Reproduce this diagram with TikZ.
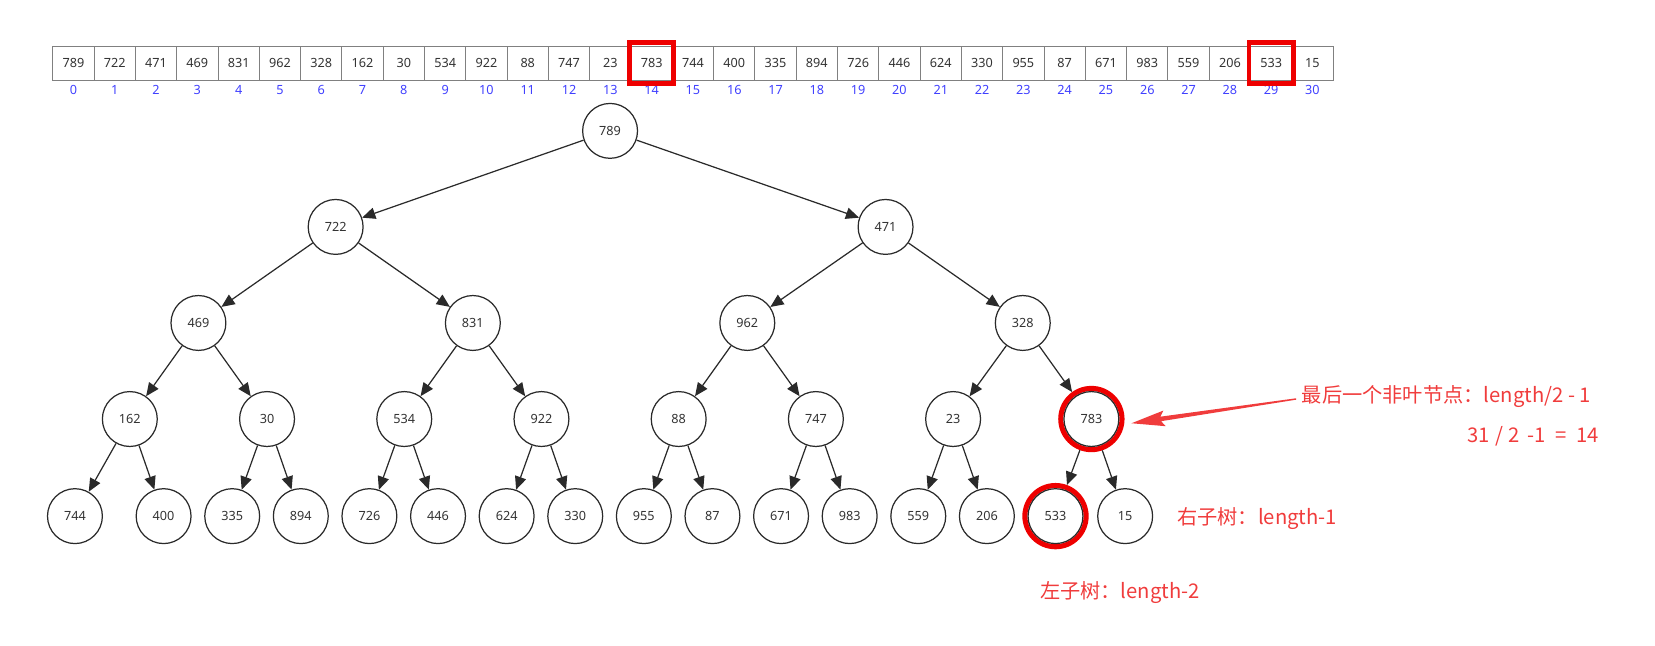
\documentclass[tikz,border=0pt]{standalone}
\usepackage{fontspec}
\setmainfont{Noto Sans}
\newfontfamily\cjk{Noto Sans CJK SC}
\usetikzlibrary{arrows.meta,calc}
\definecolor{edgegray}{HTML}{2A2A2A}
\definecolor{txtgray}{HTML}{333333}
\definecolor{cellgray}{HTML}{808080}
\definecolor{idxblue}{HTML}{4040FF}
\definecolor{hotred}{HTML}{EE0000}
\definecolor{annot}{HTML}{F03C3C}
\begin{document}
\begin{tikzpicture}[x=0.6pt,y=-0.6pt,
  treenode/.style={circle,draw=edgegray,line width=0.7pt,minimum size=31.2pt,inner sep=0pt,
    font=\fontsize{7.2}{8}\selectfont,text=txtgray},
  hotnode/.style={circle,draw=hotred,line width=2.9pt,minimum size=34.8pt,inner sep=0pt,
    font=\fontsize{7.2}{8}\selectfont,text=txtgray},
  edge/.style={draw=edgegray,line width=0.7pt,-{Triangle[length=7.5pt,width=6.5pt]}},
  cell/.style={rectangle,draw=cellgray,line width=0.5pt,minimum width=23.48pt,minimum height=19.2pt,
    inner sep=0pt,font=\fontsize{7.2}{8}\selectfont,text=txtgray},
  idx/.style={inner sep=0pt,font=\fontsize{7.2}{8}\selectfont,text=idxblue},
  hotbox/.style={draw=hotred,line width=2.7pt},
  note/.style={inner sep=0pt,anchor=west,text=annot,font=\cjk\fontsize{11.5}{13}\selectfont}]
\useasboundingbox (0,0) rectangle (1568,612);

% array with indices
\foreach \v [count=\k from 0] in {789,722,471,469,831,962,328,162,30,534,922,88,747,23,783,744,400,335,894,726,446,624,330,955,87,671,983,559,206,533,15} {
  \node[cell] (c\k) at ({50+39.13*(\k+0.5)},60) {\v};
  \node[idx] (ix\k) at ({50+39.13*(\k+0.5)},85) {\k};
}
\draw[hotbox] ($(c14.north west)+(-1,-3)$) rectangle ($(c14.south east)+(1,3)$);
\draw[hotbox] ($(c29.north west)+(-1,-3)$) rectangle ($(c29.south east)+(1,3)$);

% heap tree
\foreach \k/\x/\y/\v in {0/578/124/789,
  1/318/215/722, 2/839/215/471,
  3/188/306/469, 4/448/306/831, 5/708/306/962, 6/969/306/328,
  7/123/397/162, 8/253/397/30, 9/383/397/534, 10/513/397/922,
  11/643/397/88, 12/773/397/747, 13/903/397/23,
  15/71/489/744, 16/155/489/400, 17/220/489/335, 18/285/489/894,
  19/350/489/726, 20/415/489/446, 21/480/489/624, 22/545/489/330,
  23/610/489/955, 24/675/489/87, 25/740/489/671, 26/805/489/983,
  27/870/489/559, 28/935/489/206, 30/1066/489/15} {
  \node[treenode] (n\k) at (\x,\y) {\v};
}
\node[hotnode] (n14) at (1034,397) {783};
\node[hotnode] (n29) at (1000,489) {533};
\draw[edgegray,line width=0.7pt] (n14.center) circle[radius=15.6pt];
\draw[edgegray,line width=0.7pt] (n29.center) circle[radius=15.6pt];

\foreach \p in {0,...,14} {
  \pgfmathtruncatemacro\lc{2*\p+1}
  \pgfmathtruncatemacro\rc{2*\p+2}
  \draw[edge] (n\p) -- (n\lc);
  \draw[edge] (n\p) -- (n\rc);
}

% annotations
\node[note] (t1) at (1233,376) {最后一个非叶节点：length/2 - 1};
\node[note] (t2) at (1390,413) {31\hspace{3pt}/\hspace{3pt}2\hspace{4.6pt}-1\hspace{5.5pt}=\hspace{5.5pt}14};
\node[note] (t3) at (1115,491) {右子树：length-1};
\node[note] (t4) at (985,561) {左子树：length-2};

% tapered pointer to the last non-leaf node
\coordinate (arrtail) at (1228,378);
\coordinate (arrtip) at (1072,401);
\coordinate (hb) at ($(arrtip)!16.8pt!(arrtail)$);
\coordinate (hbb) at ($(arrtip)!19pt!(arrtail)$);
\fill[annot] ($(arrtail)!0.4pt!90:(arrtip)$) -- ($(hb)!1.3pt!90:(arrtip)$)
  -- ($(hbb)!4.5pt!90:(arrtip)$) -- (arrtip) -- ($(hbb)!4.5pt!-90:(arrtip)$)
  -- ($(hb)!1.3pt!-90:(arrtip)$) -- ($(arrtail)!0.4pt!-90:(arrtip)$) -- cycle;
\end{tikzpicture}
\end{document}
